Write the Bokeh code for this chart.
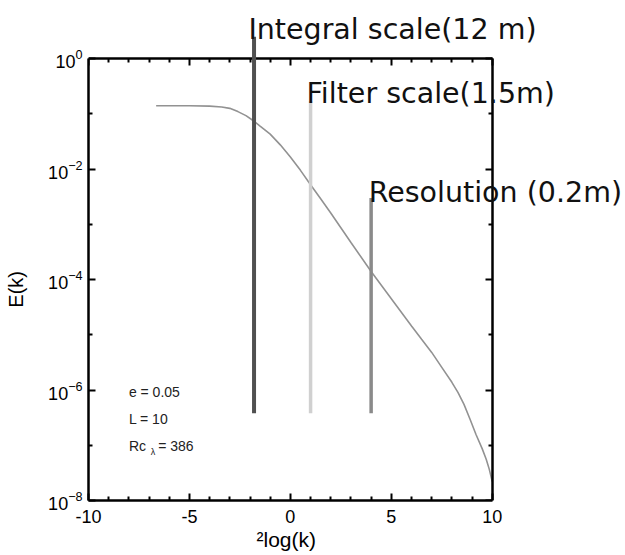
from bokeh.plotting import figure
from bokeh.models import (Range1d, LinearAxis, LogAxis, FixedTicker, Label, Arrow,
                          ColumnDataSource, LogTickFormatter, Title)
from bokeh.embed import file_html
from bokeh.resources import INLINE

# model energy spectrum
log2k = [-6.65, -5.0, -4.0, -3.4, -3.0, -2.6, -2.2, -1.85, -1.5, -1.0, -0.5, 0.0, 0.5,
         1.0, 1.5, 2.0, 3.0, 4.0, 5.0, 6.0, 6.5, 7.0, 7.5, 8.0, 8.3, 8.6, 8.9, 9.2, 9.5,
         9.7, 9.85, 10.0]
energy = [0.14, 0.14, 0.138, 0.133, 0.126, 0.11, 0.093, 0.076, 0.060, 0.043, 0.0275, 0.0166,
          0.0095, 5.2e-3, 2.9e-3, 1.6e-3, 4.7e-4, 1.4e-4, 4.5e-5, 1.45e-5, 8.3e-6, 4.8e-6,
          2.57e-6, 1.38e-6, 9.1e-7, 5.5e-7, 2.95e-7, 1.55e-7, 8.7e-8, 5.6e-8, 3.7e-8, 2.2e-8]

# marked scales
scale_names = ["Integral scale(12 m)", "Filter scale(1.5m)", "Resolution (0.2m)"]
scale_x = [-1.8, 1.0, 4.0]
scale_top = [2.5, 0.17, 3.0e-3]
scale_bottom = [3.8e-7, 3.8e-7, 3.8e-7]
scale_colors = ["#505050", "#d0d0d0", "#8a8a8a"]
scale_widths = [4, 3.5, 3.5]

x_ticks = [-10, -5, 0, 5, 10]
x_tick_labels = ["-10", "-5", "0", "5", "10"]
x_minor = [-9, -8, -7, -6, -4, -3, -2, -1, 1, 2, 3, 4, 6, 7, 8, 9]
y_ticks = [1e-8, 1e-6, 1e-4, 1e-2, 1e0]
y_minor = [1e-7, 1e-5, 1e-3, 1e-1]

params = ["e = 0.05", "L = 10"]
rc_value = "=  386"

# the plotting area reaches past the axes box so the labels above/right are not clipped
p = figure(width=625, height=555, x_range=Range1d(-10, 16.6), y_range=Range1d(1e-8, 11.3),
           y_axis_type="log", output_backend="svg", toolbar_location=None,
           min_border_left=88, min_border_right=0, min_border_top=0, min_border_bottom=55)
p.grid.visible = False
p.outline_line_color = None
p.background_fill_color = "white"
p.border_fill_color = "white"

FONT = "Liberation Sans"

def style(ax, labels=True):
    ax.axis_line_width = 2.5
    ax.axis_line_color = "black"
    ax.major_tick_in = 7
    ax.major_tick_out = 0
    ax.minor_tick_in = 4
    ax.minor_tick_out = 0
    ax.major_tick_line_width = 2
    ax.minor_tick_line_width = 2
    ax.major_tick_line_color = "black"
    ax.minor_tick_line_color = "black"
    ax.major_label_text_font = FONT
    if labels:
        ax.major_label_text_font_size = "18px"
        ax.major_label_text_color = "black"
    else:
        ax.major_label_text_font_size = "1px"
        ax.major_label_text_color = None
        ax.major_label_standoff = 0

xa = p.xaxis[0]
xa.ticker = FixedTicker(ticks=x_ticks, minor_ticks=x_minor)
style(xa)
xa.bounds = (-10, 10)
xa.major_label_overrides = {t: s for t, s in zip(x_ticks, x_tick_labels)}
xa.major_label_standoff = 9

ya = p.yaxis[0]
ya.ticker = FixedTicker(ticks=y_ticks, minor_ticks=y_minor)
ya.formatter = LogTickFormatter()
style(ya)
ya.bounds = (1e-8, 1)
ya.major_label_standoff = 6
# padded so that the label centres on the axes box rather than on the wider plotting area
ya.axis_label = "E(k)" + "\u00a0" * 14
ya.axis_label_text_font = FONT
ya.axis_label_text_font_size = "20px"
ya.axis_label_text_font_style = "normal"
ya.axis_label_text_color = "black"
ya.axis_label_standoff = 18

top = LinearAxis(ticker=FixedTicker(ticks=x_ticks, minor_ticks=x_minor),
                 fixed_location=1.0, bounds=(-10, 10))
style(top, labels=False)
p.add_layout(top, "above")
right = LogAxis(ticker=FixedTicker(ticks=y_ticks, minor_ticks=y_minor),
                fixed_location=10, bounds=(1e-8, 1))
style(right, labels=False)
p.add_layout(right, "right")

xlabel = Title(text="²log(k)", align="left", offset=168, vertical_align="bottom", standoff=0,
               text_font=FONT, text_font_size="21px", text_font_style="normal",
               text_color="black")
p.add_layout(xlabel, "below")

p.line(log2k, energy, line_color="#929292", line_width=1.6)

src = ColumnDataSource(dict(x=scale_x, y0=scale_bottom, y1=scale_top, color=scale_colors,
                            w=scale_widths))
p.add_layout(Arrow(x_start="x", y_start="y0", x_end="x", y_end="y1", end=None,
                   line_color="color", line_width="w", source=src))

label_pos = [(-2.08, 3.4), (0.8, 0.231), (3.88, 3.8e-3)]
for name, (lx, ly) in zip(scale_names, label_pos):
    p.add_layout(Label(x=lx, y=ly, text=name, text_font="DejaVu Sans", text_font_size="28.5px",
                       text_color="#111111", text_baseline="alphabetic"))

param_y = [9.1e-7, 2.97e-7]
for t, py in zip(params, param_y):
    p.add_layout(Label(x=-8.0, y=py, text=t, text_font=FONT, text_font_size="14px",
                       text_color="#222222", text_baseline="alphabetic"))
p.add_layout(Label(x=-8.0, y=9.6e-8, text="Rc", text_font=FONT, text_font_size="14px",
                   text_color="#222222", text_baseline="alphabetic"))
p.add_layout(Label(x=-6.92, y=9.6e-8, y_offset=-6, text="λ", text_font=FONT, text_font_size="9px",
                   text_color="#222222", text_baseline="alphabetic"))
p.add_layout(Label(x=-6.55, y=9.6e-8, text=rc_value, text_font=FONT, text_font_size="14px",
                   text_color="#222222", text_baseline="alphabetic"))

open("out.html", "w").write(file_html(p, INLINE))
